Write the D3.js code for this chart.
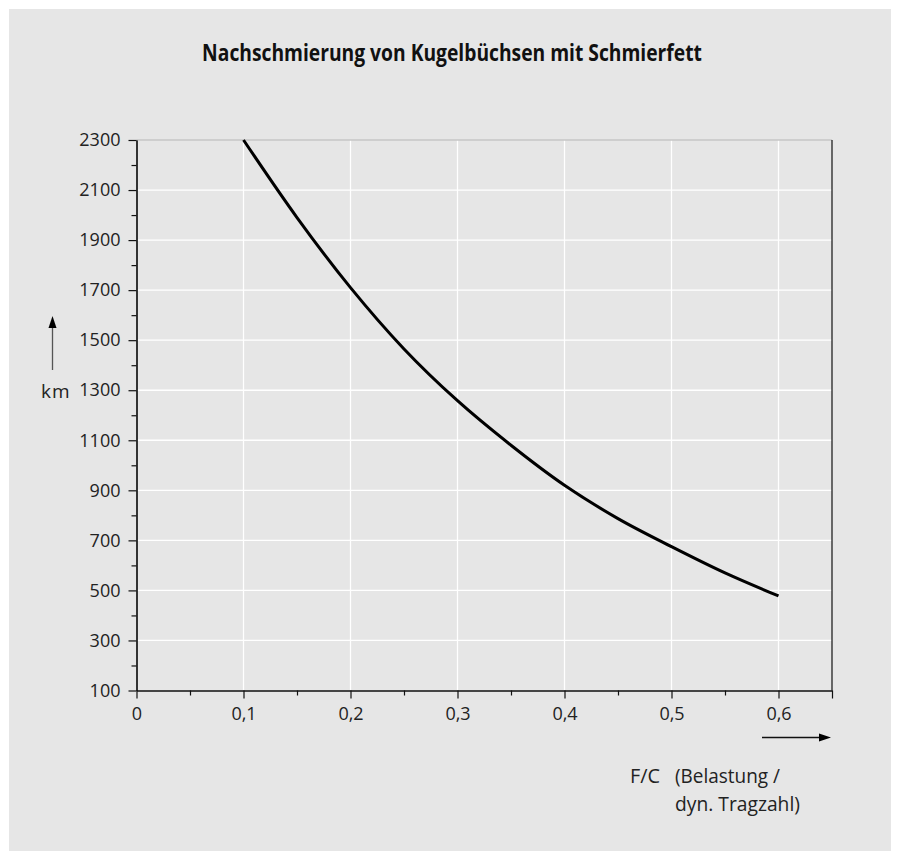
<!DOCTYPE html>
<html><head><meta charset="utf-8">
<script src="https://cdn.jsdelivr.net/npm/d3@7"></script>
<style>
body{margin:0;background:#fff}
text{font-family:"Open Sans","Noto Sans",sans-serif}
</style>
</head><body>
<svg id="c" width="897" height="851"></svg>
<script>
// ---- data ----
const loadRatio  = [0.1, 0.15, 0.2, 0.25, 0.3, 0.35, 0.4, 0.45, 0.5, 0.55, 0.6];
const kilometres = [2300, 1990, 1710, 1465, 1258, 1080, 920, 787, 675, 570, 478];
const yMajorTicks = [100, 300, 500, 700, 900, 1100, 1300, 1500, 1700, 1900, 2100, 2300];
const yMinorTicks = [200, 400, 600, 800, 1000, 1200, 1400, 1600, 1800, 2000, 2200];
const xMajorTicks = [0, 0.1, 0.2, 0.3, 0.4, 0.5, 0.6];
const xTickLabels = ["0", "0,1", "0,2", "0,3", "0,4", "0,5", "0,6"];
const xMinorTicks = [0.05, 0.15, 0.25, 0.35, 0.45, 0.55];
const titleText = "Nachschmierung von Kugelbüchsen mit Schmierfett";
const yUnit = "km";
const xLabel1 = "F/C";
const xLabel2 = ["(Belastung /", "dyn. Tragzahl)"];

// ---- layout ----
const svg = d3.select("#c");
svg.append("rect").attr("x", 9).attr("y", 9).attr("width", 882).attr("height", 842).attr("fill", "#e6e6e6");

const x = d3.scaleLinear().domain([0, 0.65]).range([136.5, 832]);
const y = d3.scaleLinear().domain([100, 2300]).range([690.5, 140]);

// condensed text helper: squeeze text horizontally to a target width
function condensed(sel, cx, cy, targetW, anchor) {
  const w = sel.node().getComputedTextLength();
  const s = Math.min(1, targetW / w);
  sel.attr("x", 0).attr("y", 0).attr("text-anchor", anchor)
     .attr("transform", `translate(${cx},${cy}) scale(${s},1)`);
}

// title
const t = svg.append("text")
  .style("font-weight", "bold").style("font-size", "23px").attr("fill", "#111")
  .text(titleText);
condensed(t, 452, 61, 500, "middle");

// grid
const g = svg.append("g");
g.selectAll("line.h").data(yMajorTicks.filter(v => v > 100 && v < 2300)).join("line")
  .attr("x1", x(0)).attr("x2", x(0.65)).attr("y1", d => y(d)).attr("y2", d => y(d))
  .attr("stroke", "#fff").attr("stroke-width", 1.3);
g.selectAll("line.v").data(xMajorTicks.filter(v => v > 0)).join("line")
  .attr("x1", d => x(d)).attr("x2", d => x(d)).attr("y1", y(2300)).attr("y2", y(100))
  .attr("stroke", "#fff").attr("stroke-width", 1.3);
g.append("line").attr("x1", x(0)).attr("x2", x(0.65)).attr("y1", y(2300)).attr("y2", y(2300))
  .attr("stroke", "#c6c6c6").attr("stroke-width", 1.5);
g.append("line").attr("x1", x(0.65)).attr("x2", x(0.65)).attr("y1", y(2300)).attr("y2", y(100))
  .attr("stroke", "#111").attr("stroke-width", 1.2);

// axes
function styleAxis(sel) {
  sel.selectAll("path.domain").attr("stroke", "#111").attr("stroke-width", 1.2);
  sel.selectAll(".tick line").attr("stroke", "#111").attr("stroke-width", 1.2);
  sel.selectAll(".tick text").attr("fill", "#222").style("font-size", "18px")
    .style("font-family", '"Open Sans",sans-serif');
}
const yMinor = svg.append("g").attr("transform", `translate(${x(0)},0)`)
  .call(d3.axisLeft(y).tickValues(yMinorTicks).tickSize(5).tickSizeOuter(0).tickFormat(""));
styleAxis(yMinor);
const yMajor = svg.append("g").attr("transform", `translate(${x(0)},0)`)
  .call(d3.axisLeft(y).tickValues(yMajorTicks).tickSize(8).tickSizeOuter(0).tickPadding(8).tickFormat(d3.format("d")));
styleAxis(yMajor);

const xMinor = svg.append("g").attr("transform", `translate(0,${y(100)})`)
  .call(d3.axisBottom(x).tickValues(xMinorTicks).tickSize(5).tickSizeOuter(0).tickFormat(""));
styleAxis(xMinor);
const xMajor = svg.append("g").attr("transform", `translate(0,${y(100)})`)
  .call(d3.axisBottom(x).tickValues(xMajorTicks.concat([0.65])).tickSize(8).tickSizeOuter(0).tickPadding(9)
    .tickFormat(d => { const i = xMajorTicks.indexOf(d); return i >= 0 ? xTickLabels[i] : ""; }));
styleAxis(xMajor);

// curve
const line = d3.line().x((d, i) => x(loadRatio[i])).y(d => y(d)).curve(d3.curveMonotoneX);
svg.append("path").datum(kilometres).attr("d", line)
  .attr("fill", "none").attr("stroke", "#000").attr("stroke-width", 3);

// y unit + arrow
svg.append("text").attr("x", 41).attr("y", 398).style("font-size", "19px")
  .style("letter-spacing", "1px").attr("fill", "#222").text(yUnit);
svg.append("line").attr("x1", 52.5).attr("x2", 52.5).attr("y1", 370).attr("y2", 326)
  .attr("stroke", "#555").attr("stroke-width", 1.3);
svg.append("path").attr("d", "M52.5,316 L48.5,328 L56.5,328 Z").attr("fill", "#000");

// x arrow
svg.append("line").attr("x1", 762).attr("x2", 822).attr("y1", 737.5).attr("y2", 737.5)
  .attr("stroke", "#111").attr("stroke-width", 1.3);
svg.append("path").attr("d", "M831,737.5 L819,733.5 L819,741.5 Z").attr("fill", "#000");

// x label (condensed to the reference widths)
const lab = svg.append("g").style("font-size", "20px").attr("fill", "#222");
condensed(lab.append("text").text(xLabel1), 630, 783, 30, "start");
condensed(lab.append("text").text(xLabel2[0]), 675, 783, 105, "start");
condensed(lab.append("text").text(xLabel2[1]), 675, 811, 125, "start");
</script>
</body></html>
